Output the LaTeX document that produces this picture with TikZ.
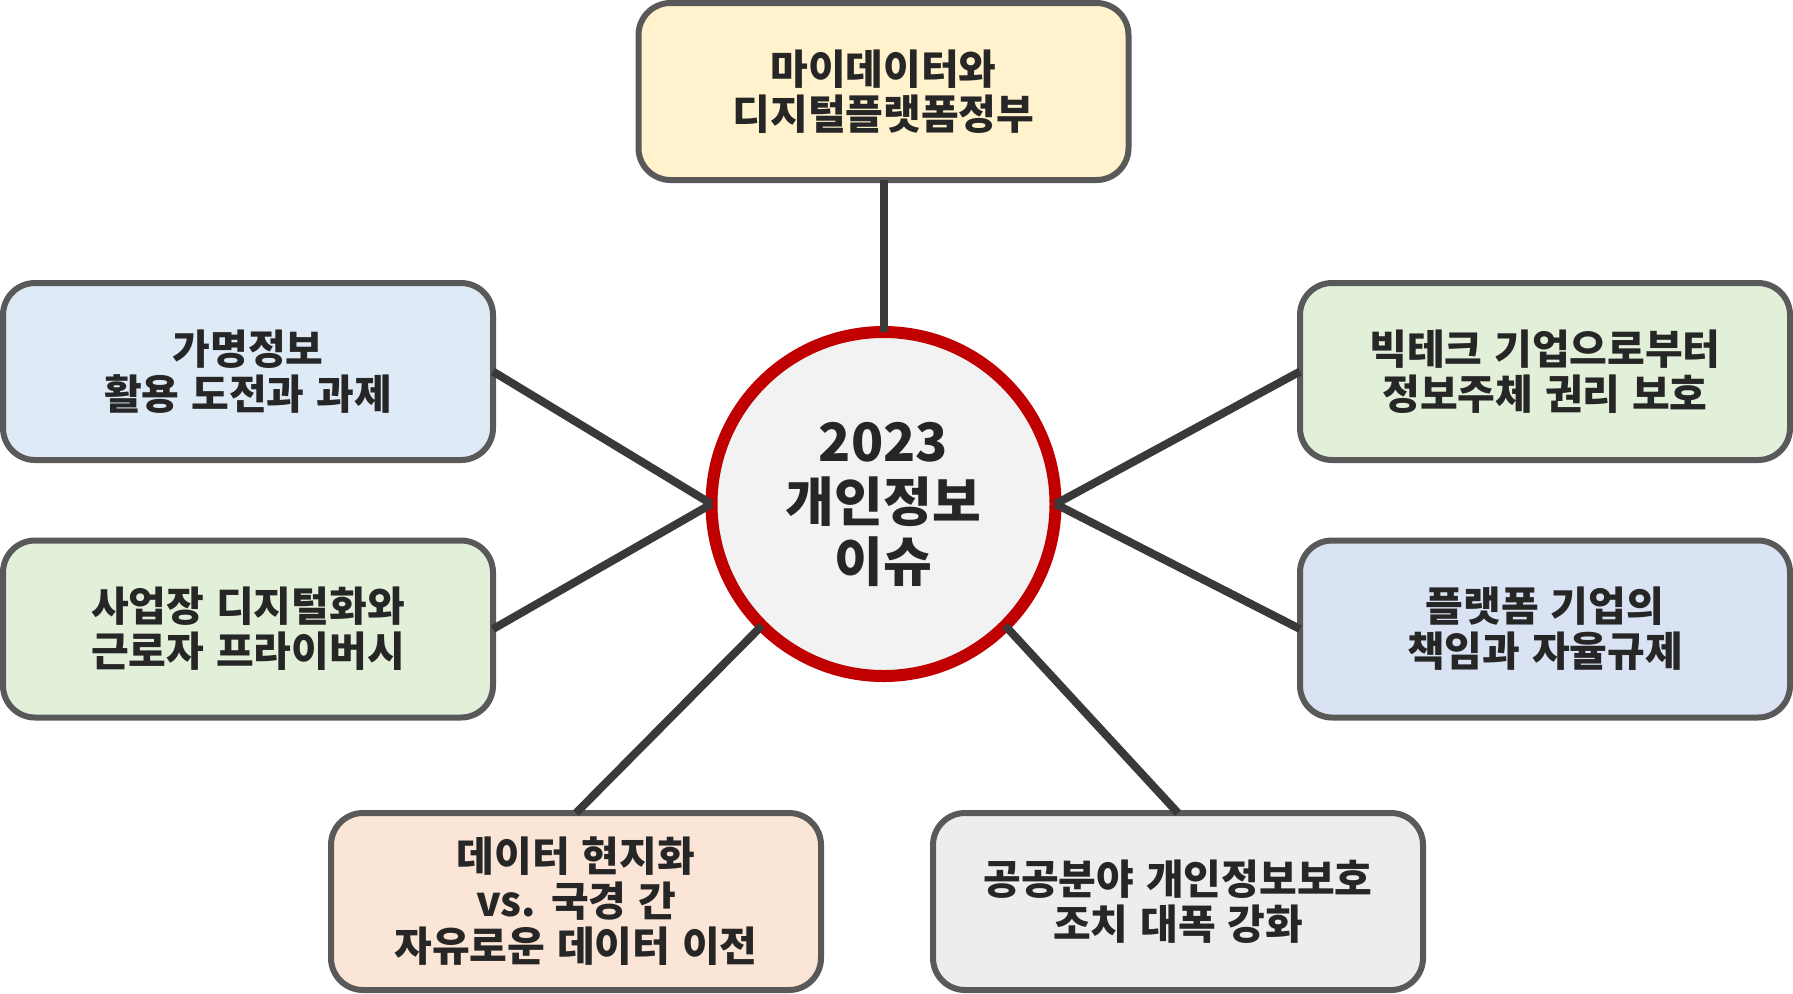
\documentclass[tikz,border=0pt]{standalone}
\usepackage{fontspec}
\setmainfont{Noto Sans CJK KR}[WordSpace=1.25]
\definecolor{boxborder}{HTML}{595959}
\definecolor{linkcol}{HTML}{3A3838}
\definecolor{txtcol}{HTML}{262626}
\definecolor{ringred}{HTML}{C00000}
\definecolor{ringfill}{HTML}{F2F2F2}
\definecolor{cyellow}{HTML}{FFF2CC}
\definecolor{cblue}{HTML}{DEEBF7}
\definecolor{cgreen}{HTML}{E2F0D9}
\definecolor{cblue2}{HTML}{DAE3F3}
\definecolor{cpeach}{HTML}{FBE5D6}
\definecolor{cgray}{HTML}{EDEDED}
\tikzset{
  topicbox/.style={draw=boxborder, line width=3pt, rounded corners=16pt,
    minimum width=245pt, minimum height=88.5pt, inner sep=0pt, outer sep=0pt,
    align=center, text=txtcol, font=\fontsize{20.5pt}{22.5pt}\selectfont\bfseries},
  hub/.style={circle, draw=ringred, fill=ringfill, line width=6pt,
    minimum size=172pt, inner sep=0pt, outer sep=0pt,
    align=center, text=txtcol, font=\fontsize{26.5pt}{30pt}\selectfont\bfseries},
  link/.style={draw=linkcol, line width=4pt}
}
\begin{document}
\begin{tikzpicture}[x=0.5pt, y=-0.5pt]
\useasboundingbox (0,0) rectangle (1793,993);
\node[hub] (c) at (883.5,504) {2023\\개인정보\\이슈};
\node[topicbox, fill=cyellow] (t) at (883.5,91.5) {마이데이터와\\디지털플랫폼정부};
\node[topicbox, fill=cblue] (l1) at (248,371.5) {가명정보\\활용 도전과 과제};
\node[topicbox, fill=cgreen] (l2) at (248,629) {사업장 디지털화와\\근로자 프라이버시};
\node[topicbox, fill=cgreen] (r1) at (1545,371.5) {빅테크 기업으로부터\\정보주체 권리 보호};
\node[topicbox, fill=cblue2] (r2) at (1545,629) {플랫폼 기업의\\책임과 자율규제};
\node[topicbox, fill=cpeach] (bl) at (576,901.5) {데이터 현지화\\vs. 국경 간\\자유로운 데이터 이전};
\node[topicbox, fill=cgray] (br) at (1178,901.5) {공공분야 개인정보보호\\조치 대폭 강화};
\draw[link] (t.south) -- (c.90);
\draw[link] (l1.east) -- (c.180);
\draw[link] (l2.east) -- (c.180);
\draw[link] (r1.west) -- (c.0);
\draw[link] (r2.west) -- (c.0);
\draw[link] (bl.north) -- (c.225);
\draw[link] (br.north) -- (c.315);
\end{tikzpicture}
\end{document}
